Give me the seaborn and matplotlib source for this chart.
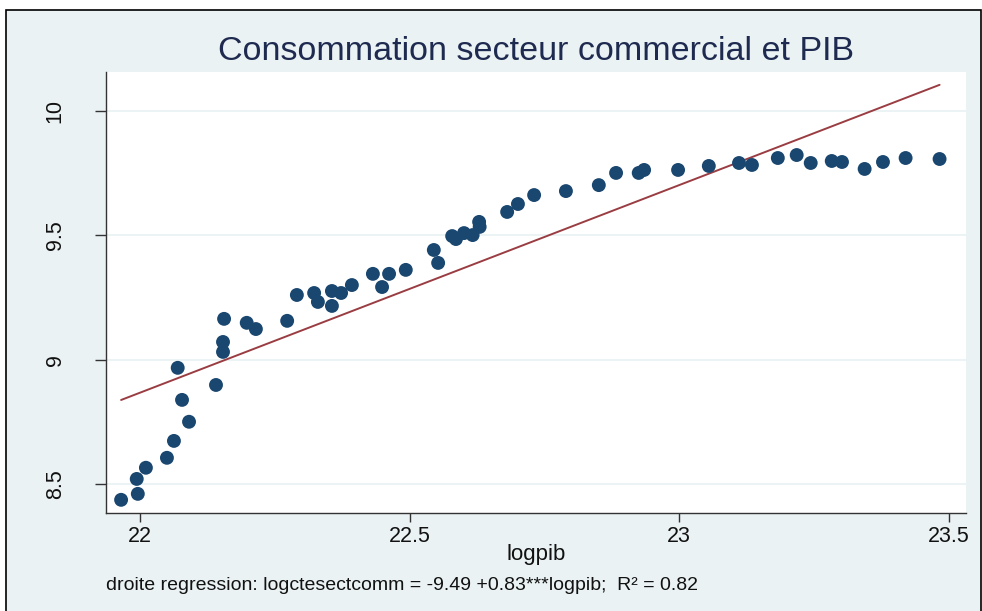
import numpy as np
import pandas as pd
import matplotlib
matplotlib.use("Agg")
import matplotlib.pyplot as plt
from matplotlib.patches import Rectangle
import seaborn as sns

# Observations: log GDP vs log commercial-sector consumption
logpib = [21.965, 21.996, 21.994, 22.011, 22.050, 22.063, 22.070, 22.078, 22.091,
          22.141, 22.154, 22.154, 22.156, 22.198, 22.215, 22.273, 22.291, 22.323,
          22.330, 22.356, 22.356, 22.373, 22.393, 22.432, 22.449, 22.462, 22.493,
          22.545, 22.553, 22.579, 22.586, 22.601, 22.617, 22.630, 22.629, 22.681,
          22.701, 22.731, 22.790, 22.851, 22.883, 22.925, 22.935, 22.998, 23.055,
          23.111, 23.135, 23.183, 23.218, 23.244, 23.283, 23.302, 23.344, 23.378,
          23.420, 23.483]
logctesectcomm = [8.436, 8.460, 8.520, 8.565, 8.605, 8.673, 8.967, 8.838, 8.750,
                  8.898, 9.031, 9.071, 9.164, 9.148, 9.123, 9.156, 9.260, 9.268,
                  9.232, 9.216, 9.276, 9.268, 9.300, 9.345, 9.292, 9.345, 9.361,
                  9.441, 9.389, 9.497, 9.485, 9.509, 9.501, 9.534, 9.554, 9.594,
                  9.626, 9.662, 9.678, 9.702, 9.751, 9.751, 9.763, 9.763, 9.779,
                  9.791, 9.783, 9.811, 9.823, 9.791, 9.799, 9.795, 9.767, 9.795,
                  9.811, 9.807]

x_ticks = [22, 22.5, 23, 23.5]
x_ticklabels = ["22", "22.5", "23", "23.5"]
y_ticks = [8.5, 9, 9.5, 10]
y_ticklabels = ["8.5", "9", "9.5", "10"]

title = "Consommation secteur commercial et PIB"
note = "droite regression: logctesectcomm = -9.49 +0.83***logpib;  R² = 0.82"

df = pd.DataFrame({"logpib": logpib, "logctesectcomm": logctesectcomm})

BG = "#EAF2F3"
NAVY = "#1A476F"
MAROON = "#9A3D42"

sns.set_theme(style="white")
plt.rcParams["font.family"] = ["Liberation Sans", "DejaVu Sans"]

fig = plt.figure(figsize=(9.82, 6.11), dpi=100, facecolor="white")
W, H = 982, 611

# Outer graph region with its frame
frame = Rectangle((6 / W, -0.01), 975 / W, 1 - 10 / H + 0.01,
                  transform=fig.transFigure, facecolor=BG,
                  edgecolor="black", linewidth=1.2, zorder=-10)
fig.patches.append(frame)

ax = fig.add_axes([106 / W, 1 - 513 / H, 860 / W, 441 / H])
ax.set_zorder(1)
ax.set_facecolor("white")

sns.regplot(data=df, x="logpib", y="logctesectcomm", ax=ax, ci=None,
            scatter_kws=dict(s=100, color=NAVY, edgecolor="none", alpha=1, zorder=3),
            line_kws=dict(color=MAROON, linewidth=1.4, zorder=2))

ax.set_xlim(21.937, 23.532)
ax.set_ylim(8.383, 10.157)

ax.set_xticks(x_ticks)
ax.set_xticklabels(x_ticklabels)
ax.set_yticks(y_ticks)
ax.set_yticklabels(y_ticklabels, rotation=90, va="center")

ax.yaxis.grid(True, color=BG, linewidth=1.3)
ax.xaxis.grid(False)
ax.set_axisbelow(True)

for side in ["top", "right"]:
    ax.spines[side].set_visible(False)
for side in ["left", "bottom"]:
    ax.spines[side].set_color("#333333")
    ax.spines[side].set_linewidth(1.0)

ax.tick_params(axis="both", direction="out", width=1.0, bottom=True, left=True,
               color="#333333", labelsize=15.5, labelcolor="#111111")
ax.tick_params(axis="x", length=6.5, pad=3)
ax.tick_params(axis="y", length=8, pad=21)

ax.set_xlabel("logpib", fontsize=16, color="#111111", labelpad=-2)
ax.set_ylabel("")

fig.text(536 / W, 1 - 51 / H, title, ha="center", va="center",
         fontsize=24.5, color="#1E2A4F")
fig.text(106 / W, 1 - 586 / H, note, ha="left", va="center",
         fontsize=14, color="#111111")

fig.savefig("out.png", dpi=100, facecolor="white")
